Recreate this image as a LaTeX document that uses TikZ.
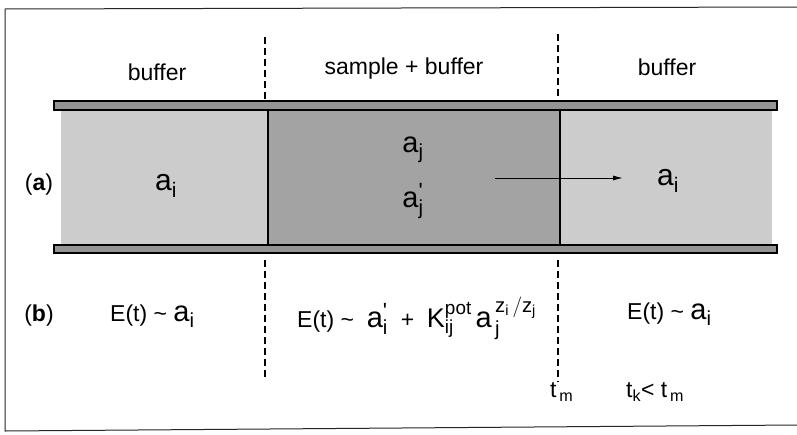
\documentclass[tikz,border=0pt]{standalone}
\usepackage{fontspec}
\setmainfont{Liberation Sans}
\setmathrm{Liberation Sans}
\usetikzlibrary{arrows.meta}
\newcommand\fs[1]{\fontsize{#1}{#1}\selectfont}
\newcommand\tick{\mbox{\fs{22}\textquotesingle}}
\begin{document}
\begin{tikzpicture}[x=1pt,y=-1pt,
  lbl/.style={inner sep=0pt,font=\fs{23}},
  bufferfill/.style={fill=black!20,draw=none},
  samplefill/.style={fill=black!36,draw=none},
  wall/.style={fill=black!42,draw=black,line width=1.3pt},
  divider/.style={draw=black,line width=1.1pt},
  dashline/.style={draw=black,line width=1.2pt,dash pattern=on 7pt off 4pt},
  frame/.style={draw=black!85,line width=1pt}]
\useasboundingbox (0,0) rectangle (797,434);
\fill[white] (0,0) rectangle (797,434);
% outer frame
\draw[frame] (797,7) -- (5,9) -- (5,431) -- (797,425);
% tube interior
\path[bufferfill] (61,110) rectangle (268,245);
\path[samplefill] (268,110) rectangle (560,245);
\path[bufferfill] (560,110) rectangle (772,245);
% walls
\draw[wall] (54,101) rectangle (777,110);
\draw[wall] (54,245) rectangle (777,253);
% coordinates
\coordinate (dl1) at (265,37);  \coordinate (dl2) at (265,101);
\coordinate (dl3) at (265,260); \coordinate (dl4) at (265,377);
\coordinate (dr1) at (558,34);  \coordinate (dr2) at (558,101);
\coordinate (dr3) at (558,260); \coordinate (dr4) at (558,382);
\coordinate (sl1) at (268,110); \coordinate (sl2) at (268,245);
\coordinate (sr1) at (560,110); \coordinate (sr2) at (560,245);
\draw[divider] (sl1) -- (sl2);
\draw[divider] (sr1) -- (sr2);
\draw[dashline] (dl1) -- (dl2);
\draw[dashline] (dl3) -- (dl4);
\draw[dashline] (dr1) -- (dr2);
\draw[dashline] (dr3) -- (dr4);
% top labels
\node[lbl] (buf1) at (157,72) {buffer};
\node[lbl] (samp) at (404,69) {sample + buffer};
\node[lbl] (buf2) at (667,67) {buffer};
% (a) row
\node[lbl,font=\fs{23}] (la) at (39,185) {(\textbf{a})};
\node[lbl,font=\fs{30}] (ai1) at (166,186) {$\mathrm{a_i}$};
\node[lbl,font=\fs{29}] (aj) at (413,150) {$\mathrm{a_j}$};
\node[lbl,font=\fs{29}] (ajp) at (413,201) {$\mathrm{a}^{\tick}_{\mathrm{j}}$};
\coordinate (arS) at (495,178);
\node[lbl,font=\fs{30}] (ai2) at (668,181) {$\mathrm{a_i}$};
\draw[line width=1pt,-{Latex[length=10pt,width=5pt]}] (arS) -- (623,178);
% (b) row
\node[lbl,font=\fs{23}] (lb) at (39,316) {(\textbf{b})};
\node[lbl,anchor=west] (e1) at (110,316) {E(t) \textasciitilde\ {\fs{29}$\mathrm{a_i}$}};
\node[lbl,anchor=west] (e2) at (297,318) {E(t) \textasciitilde\ \ {\fs{29}$\mathrm{a}^{\tick}_{\mathrm{i}}$} \ + \ {\fs{27}$\mathrm{K}^{\mathrm{pot}}_{\mathrm{ij}}$}\,{\fs{29}$\mathrm{a}_{\,\mathrm{j}}^{\,\mathrm{z_i\,/z_j}}$}};
\node[lbl,anchor=west] (e3) at (627,314) {E(t) \textasciitilde\ {\fs{29}$\mathrm{a_i}$}};
\node[lbl,anchor=west,font=\fs{23}] (tm) at (550,392) {$\mathrm{t_{\,m}}$};
\node[lbl,anchor=west,font=\fs{23}] (tk) at (626,392) {$\mathrm{t_k}$< $\mathrm{t_{\,m}}$};
\end{tikzpicture}
\end{document}
